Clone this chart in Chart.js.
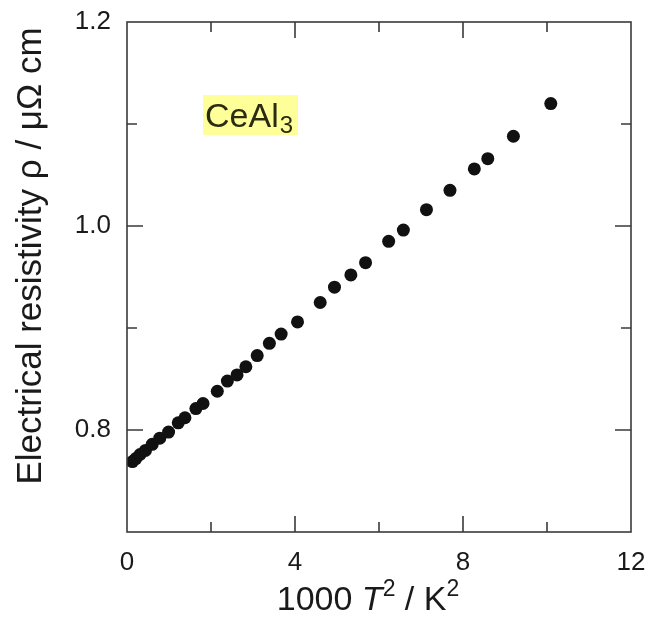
<!DOCTYPE html>
<html>
<head>
<meta charset="utf-8">
<script src="https://cdn.jsdelivr.net/npm/chart.js@4.4.1/dist/chart.umd.min.js"></script>
<style>
  html, body { margin: 0; padding: 0; background: #ffffff; }
  #wrap { width: 654px; height: 620px; position: relative; }
</style>
</head>
<body>
<div id="wrap"><canvas id="c" width="654" height="620"></canvas></div>
<script>
// CeAl3 resistivity against T^2 (x in units of 1000 K^2)
const tSquared = [0.13, 0.21, 0.31, 0.44, 0.60, 0.78, 0.99, 1.22, 1.38, 1.64, 1.81,
                  2.15, 2.39, 2.62, 2.83, 3.10, 3.39, 3.67, 4.06, 4.60, 4.94, 5.33,
                  5.68, 6.23, 6.58, 7.13, 7.69, 8.27, 8.59, 9.20, 10.09];
const resistivity = [0.769, 0.772, 0.776, 0.780, 0.786, 0.792, 0.798, 0.807, 0.812, 0.821, 0.826,
                     0.838, 0.848, 0.854, 0.862, 0.873, 0.885, 0.894, 0.906, 0.925, 0.940, 0.952,
                     0.964, 0.985, 0.996, 1.016, 1.035, 1.056, 1.066, 1.088, 1.120];

const xTickValues = [0, 4, 8, 12];
const xMinorValues = [2, 6, 10];
const yTickValues = [0.8, 1.0, 1.2];
const yMinorValues = [0.9, 1.1];

const FONT = '"Liberation Sans", Arial, Helvetica, sans-serif';

const points = tSquared.map((x, i) => ({ x: x, y: resistivity[i] }));

// Frame, inward ticks on all four sides, compound label and axis titles
const decorations = {
  id: 'decorations',
  afterDraw(chart) {
    const ctx = chart.ctx;
    const a = chart.chartArea;
    const xs = chart.scales.x, ys = chart.scales.y;
    ctx.save();
    ctx.strokeStyle = '#3a3a3a';
    ctx.lineWidth = 1.6;
    ctx.strokeRect(a.left, a.top, a.right - a.left, a.bottom - a.top);

    const MAJOR = 16, MINOR = 10;
    ctx.beginPath();
    const xTick = (v, len) => {
      const px = xs.getPixelForValue(v);
      ctx.moveTo(px, a.bottom); ctx.lineTo(px, a.bottom - len);
      ctx.moveTo(px, a.top); ctx.lineTo(px, a.top + len);
    };
    const yTick = (v, len) => {
      const py = ys.getPixelForValue(v);
      ctx.moveTo(a.left, py); ctx.lineTo(a.left + len, py);
      ctx.moveTo(a.right, py); ctx.lineTo(a.right - len, py);
    };
    xTickValues.slice(1, -1).forEach(v => xTick(v, MAJOR));
    xMinorValues.forEach(v => xTick(v, MINOR));
    yTickValues.filter(v => v > ys.min && v < ys.max).forEach(v => yTick(v, MAJOR));
    yMinorValues.forEach(v => yTick(v, MINOR));
    ctx.stroke();

    // compound name on a yellow highlight
    const lx = 205, ly = 115;
    ctx.font = '34px ' + FONT;
    const wMain = ctx.measureText('CeAl').width;
    ctx.font = '24px ' + FONT;
    const wSub = ctx.measureText('3').width;
    ctx.fillStyle = '#ffff99';
    ctx.fillRect(lx - 2, ly - 20, wMain + wSub + 8, 40);
    ctx.fillStyle = '#2b2b12';
    ctx.textBaseline = 'alphabetic';
    ctx.textAlign = 'left';
    ctx.font = '34px ' + FONT;
    ctx.fillText('CeAl', lx, ly + 12);
    ctx.font = '24px ' + FONT;
    ctx.fillText('3', lx + wMain + 1, ly + 18);

    // x-axis title: 1000 T^2 / K^2
    ctx.fillStyle = '#1a1a1a';
    const base = 610, big = '34px ' + FONT, sup = '23px ' + FONT;
    const parts = [
      { t: '1000 ', f: big, dy: 0 },
      { t: 'T', f: 'italic ' + big, dy: 0 },
      { t: '2', f: sup, dy: -14 },
      { t: ' / K', f: big, dy: 0 },
      { t: '2', f: sup, dy: -14 }
    ];
    let total = 0;
    parts.forEach(p => { ctx.font = p.f; p.w = ctx.measureText(p.t).width; total += p.w; });
    let cx = 368 - total / 2;
    parts.forEach(p => { ctx.font = p.f; ctx.fillText(p.t, cx, base + p.dy); cx += p.w; });

    // y-axis title
    ctx.translate(41, 256);
    ctx.rotate(-Math.PI / 2);
    ctx.textAlign = 'center';
    ctx.font = '35px ' + FONT;
    ctx.fillText('Electrical resistivity \u03c1 / \u03bc\u03a9 cm', 0, 0);
    ctx.restore();
  }
};

new Chart(document.getElementById('c'), {
  type: 'scatter',
  data: {
    datasets: [{
      data: points,
      backgroundColor: '#111111',
      borderColor: '#111111',
      borderWidth: 0,
      pointRadius: 6.5,
      pointHoverRadius: 6.5
    }]
  },
  options: {
    responsive: false,
    animation: false,
    events: [],
    layout: { padding: { top: 22, right: 23, left: 0, bottom: 0 } },
    plugins: { legend: { display: false }, tooltip: { enabled: false } },
    scales: {
      x: {
        type: 'linear', min: 0, max: 12,
        afterBuildTicks: s => { s.ticks = xTickValues.map(v => ({ value: v })); },
        afterFit: s => { s.height = 88; s.paddingLeft = 0; s.paddingRight = 0; },
        grid: { display: false, drawTicks: false },
        border: { display: false },
        ticks: { padding: 15, color: '#1a1a1a', font: { family: FONT, size: 26 }, maxRotation: 0 }
      },
      y: {
        type: 'linear', min: 0.7, max: 1.2,
        afterBuildTicks: s => { s.ticks = yTickValues.map(v => ({ value: v })); },
        afterFit: s => { s.width = 127; s.paddingTop = 0; s.paddingBottom = 0; },
        grid: { display: false, drawTicks: false },
        border: { display: false },
        ticks: { padding: 16, color: '#1a1a1a', font: { family: FONT, size: 26 },
                 callback: v => v.toFixed(1) }
      }
    }
  },
  plugins: [decorations]
});
</script>
</body>
</html>
